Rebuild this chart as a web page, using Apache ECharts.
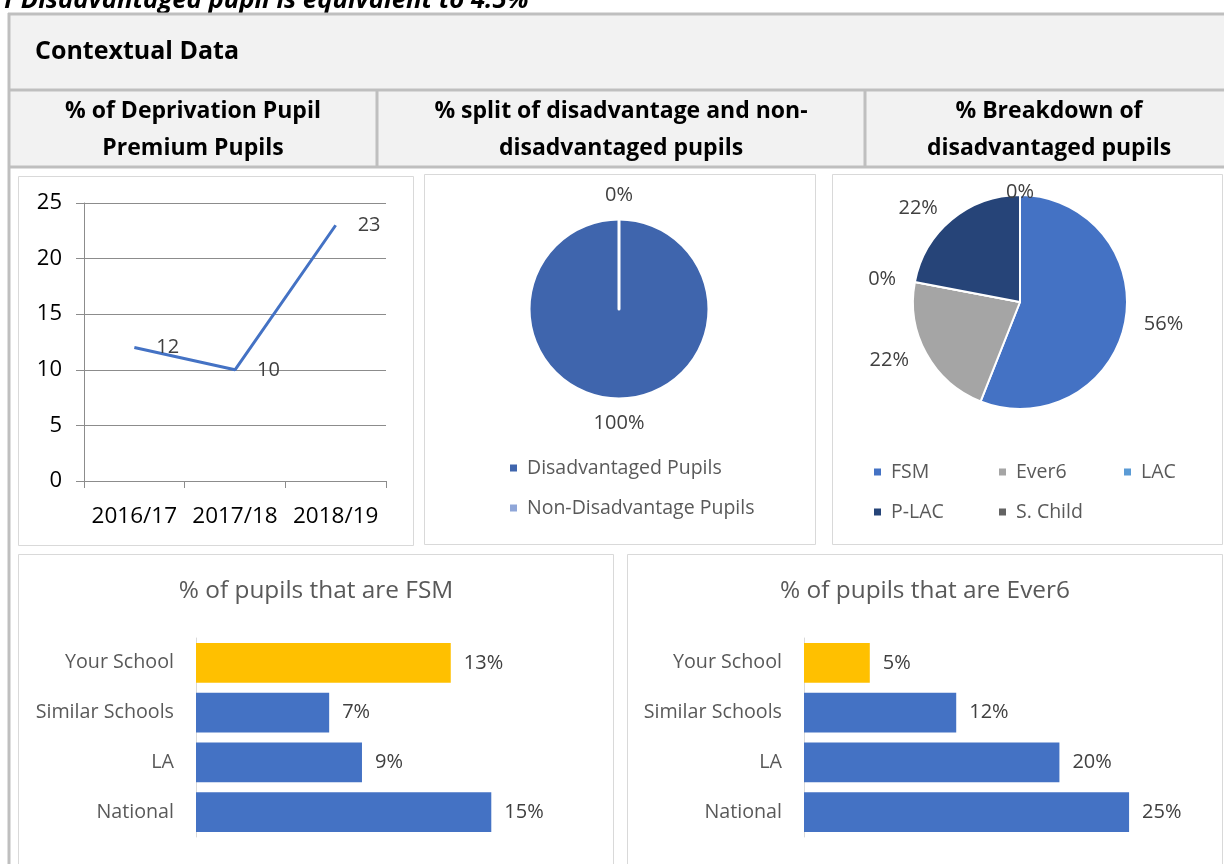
<!DOCTYPE html>
<html>
<head>
<meta charset="utf-8">
<script src="https://cdn.jsdelivr.net/npm/echarts@6/dist/echarts.min.js"></script>
<style>
  html, body { margin: 0; padding: 0; background: #fff; }
  #main { width: 1224px; height: 864px; }
</style>
</head>
<body>
<div id="main"></div>
<script>
// % of deprivation pupil premium pupils
const years = ['2016/17', '2017/18', '2018/19']
const deprivationPct = [12, 10, 23]

// % split of disadvantaged / non-disadvantaged
const splitNames = ['Disadvantaged Pupils', 'Non-Disadvantage Pupils']
const splitPct = [100, 0]

// % breakdown of disadvantaged pupils
const breakdownNames = ['FSM', 'Ever6', 'LAC', 'P-LAC', 'S. Child']
const breakdownPct = [56, 22, 0, 22, 0]

// comparison bars
const groups = ['Your School', 'Similar Schools', 'LA', 'National']
const fsmPct = [13.2, 6.9, 8.6, 15.3]
const ever6Pct = [5.1, 11.8, 19.8, 25.2]

const FONT = '"Open Sans", "Liberation Sans", sans-serif'
const TABLE_LINE = '#bfbfbf'
const BOX_LINE = '#d9d9d9'

function txt (text, x, y, font, align, color) {
  return {
    type: 'text', x: x, y: y, z: 1,
    style: { text: text, font: font + ' ' + FONT, fill: color || '#000', align: align || 'center', verticalAlign: 'middle' }
  }
}
function box (x, y, w, h) {
  return { type: 'rect', z: 0, shape: { x: x + 0.5, y: y + 0.5, width: w, height: h }, style: { fill: '#fff', stroke: BOX_LINE, lineWidth: 1 } }
}
function hline (x1, x2, y) {
  return { type: 'line', z: 1, shape: { x1: x1, y1: y, x2: x2, y2: y }, style: { stroke: TABLE_LINE, lineWidth: 3 } }
}
function vline (x, y1, y2) {
  return { type: 'line', z: 1, shape: { x1: x, y1: y1, x2: x, y2: y2 }, style: { stroke: TABLE_LINE, lineWidth: 3 } }
}

const graphics = [
  { type: 'text', x: 0, y: 14, style: { text: '1 Disadvantaged pupil is equivalent to 4.5%', font: 'italic bold 25.7px ' + FONT, fill: '#000', verticalAlign: 'bottom' } },
  { type: 'rect', z: 0, shape: { x: 9, y: 14, width: 1240, height: 153 }, style: { fill: '#f2f2f2' } },
  hline(8, 1240, 14),
  hline(8, 1240, 90),
  hline(8, 1240, 167),
  vline(9, 13, 870),
  vline(377, 90, 167),
  vline(865, 90, 167),
  txt('Contextual Data', 35, 52, 'bold 25px', 'left'),
  txt('% of Deprivation Pupil', 193, 111, 'bold 23px'),
  txt('Premium Pupils', 193, 148, 'bold 23px'),
  txt('% split of disadvantage and non-', 621, 111, 'bold 23px'),
  txt('disadvantaged pupils', 621, 148, 'bold 23px'),
  txt('% Breakdown of', 1049, 111, 'bold 23px'),
  txt('disadvantaged pupils', 1049, 148, 'bold 23px'),
  box(18, 176, 395, 369),
  box(424, 174, 391, 370),
  box(832, 174, 390, 370),
  box(18, 554, 595, 320),
  box(627, 554, 595, 320),
  txt('% of pupils that are FSM', 316, 591, '24.4px', 'center', '#595959'),
  txt('% of pupils that are Ever6', 925, 591, '24.4px', 'center', '#595959')
]

function barData (values) {
  return values.map((v, i) => i === 0 ? { value: v, itemStyle: { color: '#ffc000' } } : v)
}
function pctLabel (p) {
  return Math.round(p.value) + '%'
}
// centre labels that sit straight above the pie (zero-size slice at the top)
function topLabelLayout (p) {
  const pts = p.labelLinePoints
  if (pts && Math.abs(pts[1][0] - pts[0][0]) < 1 && pts[1][1] < pts[0][1]) {
    return { x: pts[0][0], y: pts[0][1] - 3, align: 'center' }
  }
  return {}
}

const chart = echarts.init(document.getElementById('main'))
chart.setOption({
  animation: false,
  textStyle: { fontFamily: FONT },
  graphic: graphics,
  legend: [
    {
      data: splitNames, orient: 'vertical', left: 508, top: 457, padding: 0,
      icon: 'rect', itemWidth: 9, itemHeight: 9, itemGap: 18,
      textStyle: { fontSize: 19.5, color: '#595959', lineHeight: 22, padding: [0, 0, 0, 4] }
    },
    {
      data: breakdownNames, orient: 'horizontal', left: 872, top: 457, width: 370, padding: 0,
      icon: 'rect', itemWidth: 9, itemHeight: 9, itemGap: 10,
      textStyle: { fontSize: 19.5, color: '#595959', lineHeight: 30, width: 96, padding: [0, 0, 0, 4] }
    }
  ],
  grid: [
    { left: 84, top: 203, width: 302, height: 278 },
    { left: 196, top: 638, width: 386, height: 199 },
    { left: 804, top: 638, width: 387, height: 199 }
  ],
  xAxis: [
    {
      gridIndex: 0, type: 'category', data: years, boundaryGap: true,
      axisLine: { lineStyle: { color: '#8c8c8c' } },
      axisTick: { show: true, length: 7, lineStyle: { color: '#8c8c8c' } },
      axisLabel: { fontSize: 22.5, color: '#000', margin: 24, interval: 0 }
    },
    { gridIndex: 1, type: 'value', min: 0, max: 20, show: false, splitLine: { show: false } },
    { gridIndex: 2, type: 'value', min: 0, max: 30, show: false, splitLine: { show: false } }
  ],
  yAxis: [
    {
      gridIndex: 0, type: 'value', min: 0, max: 25, interval: 5,
      axisLine: { show: true, lineStyle: { color: '#8c8c8c' } },
      axisTick: { show: true, length: 8, lineStyle: { color: '#8c8c8c' } },
      splitLine: { lineStyle: { color: '#8c8c8c' } },
      axisLabel: { fontSize: 22, color: '#000', margin: 22 }
    },
    {
      gridIndex: 1, type: 'category', data: groups, inverse: true,
      axisLine: { lineStyle: { color: BOX_LINE } }, axisTick: { show: false },
      axisLabel: { fontSize: 19.7, color: '#595959', margin: 22 }
    },
    {
      gridIndex: 2, type: 'category', data: groups, inverse: true,
      axisLine: { lineStyle: { color: BOX_LINE } }, axisTick: { show: false },
      axisLabel: { fontSize: 19.7, color: '#595959', margin: 22 }
    }
  ],
  series: [
    {
      type: 'line', xAxisIndex: 0, yAxisIndex: 0, data: deprivationPct,
      symbol: 'circle', symbolSize: 0, lineStyle: { color: '#4472c4', width: 3 }, itemStyle: { color: '#4472c4' },
      label: { show: true, position: 'right', distance: 22, fontSize: 20, color: '#404040' }
    },
    {
      type: 'pie', center: [619, 309], radius: 90, startAngle: 90,
      avoidLabelOverlap: false,
      data: splitNames.map((n, i) => ({ name: n, value: splitPct[i] })),
      color: ['#3f65ad', '#8fa6d8'],
      itemStyle: { borderColor: '#fff', borderWidth: 3 },
      label: { show: true, position: 'outside', formatter: pctLabel, fontSize: 20, color: '#404040', distanceToLabelLine: 0 },
      labelLine: { show: false, length: 24, length2: 0 },
      labelLayout: { align: 'center' }
    },
    {
      type: 'pie', center: [1020, 302], radius: 107, startAngle: 90,
      avoidLabelOverlap: false,
      data: breakdownNames.map((n, i) => ({ name: n, value: breakdownPct[i] })),
      color: ['#4472c4', '#a5a5a5', '#5b9bd5', '#264478', '#636363'],
      itemStyle: { borderColor: '#fff', borderWidth: 2 },
      label: { show: true, position: 'outside', formatter: pctLabel, fontSize: 20, color: '#404040' },
      labelLine: { show: false, length: 14, length2: 0 },
      labelLayout: topLabelLayout
    },
    {
      type: 'bar', xAxisIndex: 1, yAxisIndex: 1, data: barData(fsmPct),
      barCategoryGap: '20%', itemStyle: { color: '#4472c4' },
      label: { show: true, position: 'right', distance: 13, fontSize: 20, color: '#404040', formatter: pctLabel }
    },
    {
      type: 'bar', xAxisIndex: 2, yAxisIndex: 2, data: barData(ever6Pct),
      barCategoryGap: '20%', itemStyle: { color: '#4472c4' },
      label: { show: true, position: 'right', distance: 13, fontSize: 20, color: '#404040', formatter: pctLabel }
    }
  ]
})
</script>
</body>
</html>
